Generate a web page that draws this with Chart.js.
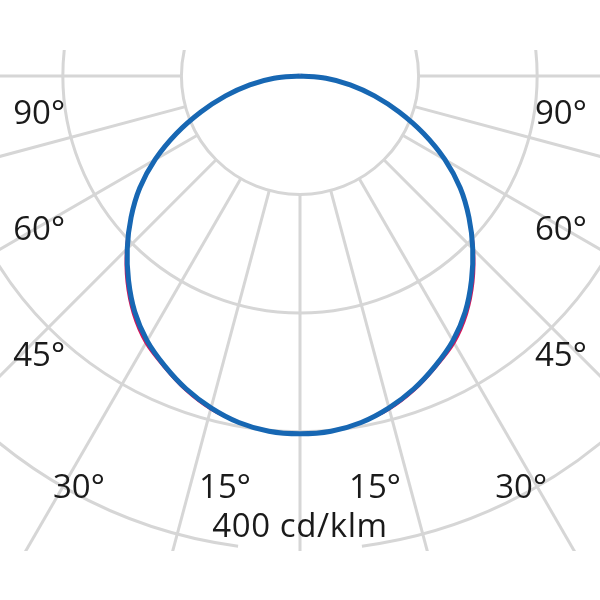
<!DOCTYPE html>
<html>
<head>
<meta charset="utf-8">
<script src="https://cdn.jsdelivr.net/npm/chart.js@4.4.1/dist/chart.umd.min.js"></script>
<style>
  html, body { margin: 0; padding: 0; background: #fff; }
  #wrap { width: 600px; height: 600px; }
</style>
</head>
<body>
<div id="wrap"><canvas id="ldc" width="600" height="600"></canvas></div>
<script>
// gamma = angle from nadir (deg), intensities in cd/klm
const gammaAngles = [0, 5, 10, 15, 20, 25, 30, 35, 40, 45, 50, 55, 60, 65, 70, 75, 80, 85, 90];
const planeC0  = [302, 301, 297, 290, 281, 270, 258, 243, 225, 206, 186, 165, 141, 115, 89, 65, 43, 22, 0];
const planeC90 = [302, 301, 297, 291, 282, 271, 260, 245, 227, 207, 186, 165, 141, 115, 89, 65, 43, 22, 0];

const ringValues = [100, 200, 300, 400];
const spokeAngles = [-90, -75, -60, -45, -30, -15, 0, 15, 30, 45, 60, 75, 90];
const angleLabels = ['90°', '60°', '45°', '30°', '15°'];
const unitLabel = '400 cd/klm';

// where the angle labels sit (left side, in cd/klm units), mirrored on the right
const labelSpots = [[-220, -40.5], [-220, -138.4], [-220, -244.7], [-186.5, -356.1], [-63.3, -356.1]];
const unitSpot = [0, -389];

// polar -> x/y, left half then right half
function curve(vals) {
  const pts = [];
  for (let i = gammaAngles.length - 1; i >= 0; i--) {
    const g = gammaAngles[i] * Math.PI / 180;
    pts.push({ x: -vals[i] * Math.sin(g), y: -vals[i] * Math.cos(g) });
  }
  for (let i = 1; i < gammaAngles.length; i++) {
    const g = gammaAngles[i] * Math.PI / 180;
    pts.push({ x: vals[i] * Math.sin(g), y: -vals[i] * Math.cos(g) });
  }
  return pts;
}

const polarGrid = {
  id: 'polarGrid',
  beforeDatasetsDraw(chart) {
    const { ctx, chartArea, scales: { x, y } } = chart;
    const cx = x.getPixelForValue(0), cy = y.getPixelForValue(0);
    const rpx = v => x.getPixelForValue(v) - cx;
    ctx.save();
    ctx.beginPath();
    ctx.rect(chartArea.left, chartArea.top, chartArea.width, chartArea.height);
    ctx.clip();
    ctx.strokeStyle = '#d6d6d6';
    ctx.lineWidth = 3;
    ringValues.forEach(v => {
      ctx.beginPath();
      if (v === 400) {
        const gap = 7.5 * Math.PI / 180;  // room for the unit label
        ctx.arc(cx, cy, rpx(v), Math.PI / 2 + gap, Math.PI / 2 - gap + Math.PI * 2);
      } else {
        ctx.arc(cx, cy, rpx(v), 0, Math.PI * 2);
      }
      ctx.stroke();
    });
    const r0 = rpx(ringValues[0]), r1 = 1000;
    spokeAngles.forEach(a => {
      const g = a * Math.PI / 180;
      ctx.beginPath();
      ctx.moveTo(cx + r0 * Math.sin(g), cy + r0 * Math.cos(g));
      ctx.lineTo(cx + r1 * Math.sin(g), cy + r1 * Math.cos(g));
      ctx.stroke();
    });
    ctx.restore();
  },
  afterDatasetsDraw(chart) {
    const { ctx, scales: { x, y } } = chart;
    ctx.save();
    ctx.fillStyle = '#1a1a1a';
    ctx.font = '33px "Open Sans"';
    ctx.textAlign = 'center';
    ctx.textBaseline = 'alphabetic';
    angleLabels.forEach((t, i) => {
      const [lx, ly] = labelSpots[i];
      ctx.fillText(t, x.getPixelForValue(lx), y.getPixelForValue(ly));
      ctx.fillText(t, x.getPixelForValue(-lx), y.getPixelForValue(ly));
    });
    ctx.letterSpacing = '0.6px';
    ctx.fillText(unitLabel, x.getPixelForValue(unitSpot[0]), y.getPixelForValue(unitSpot[1]));
    ctx.restore();
  }
};

new Chart(document.getElementById('ldc'), {
  type: 'scatter',
  data: {
    datasets: [
      {
        label: 'C0-C180',
        data: curve(planeC0),
        showLine: true,
        borderColor: '#1767b3',
        borderWidth: 5,
        pointRadius: 0,
        tension: 0.33,
        fill: false
      },
      {
        label: 'C90-C270',
        data: curve(planeC90),
        showLine: true,
        borderColor: '#d4145a',
        borderWidth: 3,
        pointRadius: 0,
        tension: 0.33,
        fill: false
      }
    ]
  },
  options: {
    responsive: false,
    animation: false,
    layout: { padding: { top: 50, bottom: 49, left: 0, right: 0 } },
    scales: {
      x: { type: 'linear', min: -253, max: 253, display: false },
      y: { type: 'linear', min: -401, max: 21.9, display: false }
    },
    plugins: {
      legend: { display: false },
      tooltip: { enabled: false }
    }
  },
  plugins: [polarGrid]
});
</script>
</body>
</html>
